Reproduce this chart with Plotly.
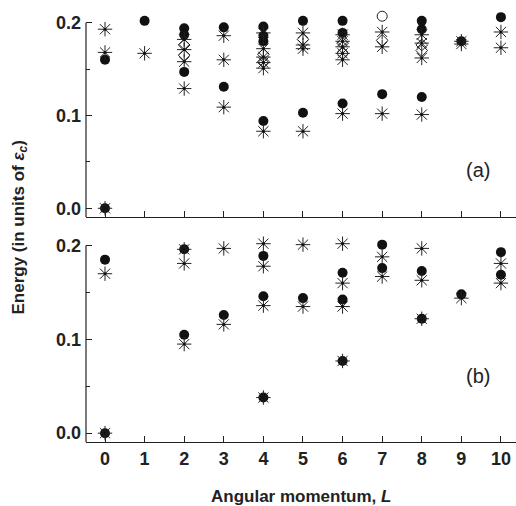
import plotly.graph_objects as go

# ---------------- data ----------------
# Panel (a)
a_circle_L = [0, 0, 1, 2, 2, 2, 3, 3, 4, 4, 4, 4, 5, 5, 6, 6, 6, 7, 8, 8, 8, 9, 10]
a_circle_E = [0.0, 0.160, 0.202, 0.194, 0.187, 0.147, 0.195, 0.131, 0.196, 0.186, 0.180, 0.094,
              0.202, 0.103, 0.202, 0.189, 0.113, 0.123, 0.202, 0.193, 0.120, 0.180, 0.206]
a_star_L = [0, 0, 0, 1, 2, 2, 2, 2, 3, 3, 3, 4, 4, 4, 4, 4, 4,
            5, 5, 5, 5, 6, 6, 6, 6, 6, 6, 7, 7, 7, 8, 8, 8, 8, 9, 9, 10, 10]
a_star_E = [0.193, 0.168, 0.0, 0.167, 0.182, 0.171, 0.158, 0.129, 0.186, 0.160, 0.109,
            0.189, 0.172, 0.163, 0.157, 0.151, 0.083,
            0.189, 0.176, 0.172, 0.083, 0.187, 0.180, 0.174, 0.167, 0.160, 0.102,
            0.190, 0.174, 0.102, 0.187, 0.178, 0.162, 0.101, 0.180, 0.177, 0.190, 0.173]
a_diamond_L = [2, 2, 4, 4, 5, 6, 6, 7, 8, 8]
a_diamond_E = [0.176, 0.165, 0.166, 0.158, 0.182, 0.178, 0.167, 0.181, 0.176, 0.170]
a_open_L = [7]
a_open_E = [0.207]

# Panel (b)
b_circle_L = [0, 0, 2, 2, 3, 4, 4, 4, 5, 6, 6, 6, 7, 7, 8, 8, 9, 10, 10]
b_circle_E = [0.0, 0.185, 0.196, 0.105, 0.126, 0.189, 0.146, 0.038, 0.144, 0.171, 0.1425,
              0.077, 0.201, 0.176, 0.173, 0.122, 0.148, 0.193, 0.169]
b_star_L = [0, 0, 2, 2, 2, 3, 3, 4, 4, 4, 4, 5, 5, 6, 6, 6, 6, 7, 7, 8, 8, 8, 9, 10, 10]
b_star_E = [0.0, 0.170, 0.196, 0.181, 0.095, 0.197, 0.116, 0.202, 0.178, 0.136, 0.038,
            0.201, 0.135, 0.202, 0.160, 0.135, 0.077, 0.188, 0.167, 0.197, 0.163, 0.122,
            0.144, 0.181, 0.160]

x_ticks = list(range(0, 11))
x_tick_text = [str(v) for v in x_ticks]
y_ticks = [0.0, 0.1, 0.2]
y_tick_text = ["0.0", "0.1", "0.2"]

INK = "#222222"
FONT = "Liberation Sans, Arial, sans-serif"

# ---------------- figure ----------------
fig = go.Figure()

def add_panel(xa, ya, cL, cE, sL, sE, dL=None, dE=None, oL=None, oE=None):
    fig.add_trace(go.Scatter(x=cL, y=cE, mode="markers", xaxis=xa, yaxis=ya,
                             marker=dict(symbol="circle", size=10, color="#111111",
                                         line=dict(width=0)),
                             cliponaxis=False, showlegend=False))
    if dL:
        fig.add_trace(go.Scatter(x=dL, y=dE, mode="markers", xaxis=xa, yaxis=ya,
                                 marker=dict(symbol="diamond-open", size=9, color=INK,
                                             line=dict(width=1, color=INK)),
                                 cliponaxis=False, showlegend=False))
    if oL:
        fig.add_trace(go.Scatter(x=oL, y=oE, mode="markers", xaxis=xa, yaxis=ya,
                                 marker=dict(symbol="circle-open", size=10, color=INK,
                                             line=dict(width=1, color=INK)),
                                 cliponaxis=False, showlegend=False))
    fig.add_trace(go.Scatter(x=sL, y=sE, mode="markers", xaxis=xa, yaxis=ya,
                             marker=dict(symbol="asterisk-open", size=12, color=INK,
                                         line=dict(width=1, color=INK)),
                             cliponaxis=False, showlegend=False))
    fig.add_trace(go.Scatter(x=sL, y=sE, mode="markers", xaxis=xa, yaxis=ya,
                             marker=dict(symbol="circle", size=3, color="#111111"),
                             cliponaxis=False, showlegend=False))

add_panel("x", "y", a_circle_L, a_circle_E, a_star_L, a_star_E,
          a_diamond_L, a_diamond_E, a_open_L, a_open_E)
add_panel("x2", "y2", b_circle_L, b_circle_E, b_star_L, b_star_E)

tickfont = dict(family=FONT, size=18, color=INK)
xr = [-0.48, 10.38]
yr = [-0.0094, 0.21]

common_x = dict(range=xr, tickmode="array", tickvals=x_ticks,
                ticktext=["<b>%s</b>" % t for t in x_tick_text], ticks="inside",
                ticklen=6, tickwidth=1, tickcolor=INK, showline=True,
                linecolor=INK, linewidth=1.2, showgrid=False, zeroline=False,
                tickfont=tickfont)
common_y = dict(range=yr, tickmode="array", tickvals=y_ticks,
                ticktext=["<b>%s</b>" % t for t in y_tick_text],
                ticks="inside", ticklen=6, tickwidth=1, tickcolor=INK,
                showline=False, showgrid=False, ticklabelstandoff=4,
                zeroline=False, tickfont=tickfont,
                minor=dict(tickvals=[0.05, 0.15], ticks="inside", ticklen=4,
                           tickwidth=1, tickcolor=INK))

fig.update_layout(
    width=516, height=506,
    margin=dict(l=86, r=0, t=13, b=64),
    paper_bgcolor="white", plot_bgcolor="white",
    xaxis=dict(**common_x, anchor="y", showticklabels=False),
    yaxis=dict(**common_y, domain=[0.5245, 0.999], anchor="x"),
    xaxis2=dict(**common_x, anchor="y2", showticklabels=True, matches="x"),
    yaxis2=dict(**common_y, domain=[0.0, 0.4797], anchor="x2"),
    shapes=[
        dict(type="line", xref="x domain", yref="y", x0=0, x1=0, y0=yr[0], y1=y_ticks[-1],
             line=dict(color=INK, width=1.2)),
        dict(type="line", xref="x2 domain", yref="y2", x0=0, x1=0, y0=yr[0], y1=y_ticks[-1],
             line=dict(color=INK, width=1.2)),
    ],
    annotations=[
        dict(text="(a)", x=9.42, y=0.041, xref="x", yref="y", showarrow=False,
             font=dict(family=FONT, size=20, color=INK)),
        dict(text="(b)", x=9.42, y=0.061, xref="x2", yref="y2", showarrow=False,
             font=dict(family=FONT, size=20, color=INK)),
        dict(text="<b>Angular momentum, <i>L</i></b>", x=0.5, y=0, xref="paper",
             yref="paper", yanchor="middle", yshift=-54, showarrow=False,
             font=dict(family=FONT, size=17, color=INK)),
        dict(text="<b>Energy (in units of <i>ε<sub>c</sub></i>)</b>", x=0, y=0.5,
             xref="paper", yref="paper", xanchor="center", xshift=-67, textangle=-90,
             showarrow=False, font=dict(family=FONT, size=17, color=INK)),
    ],
)

fig.write_html("out.html")
